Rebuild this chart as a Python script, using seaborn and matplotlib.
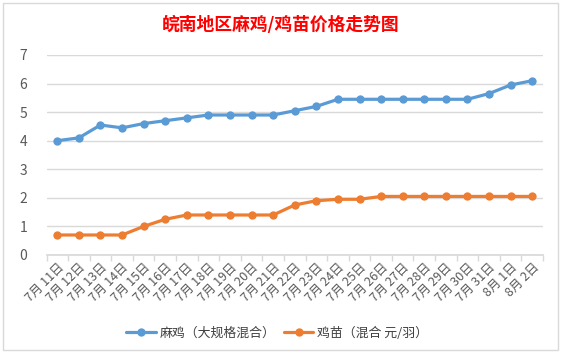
import pandas as pd
import numpy as np
import seaborn as sns
from matplotlib import pyplot as plt
from matplotlib.patches import Rectangle

sns.set_theme(style='white')
plt.rcParams['font.family'] = ['Noto Sans CJK SC', 'DejaVu Sans']

dates = ['7月 11日', '7月 12日', '7月 13日', '7月 14日', '7月 15日', '7月 16日',
         '7月 17日', '7月 18日', '7月 19日', '7月 20日', '7月 21日', '7月 22日',
         '7月 23日', '7月 24日', '7月 25日', '7月 26日', '7月 27日', '7月 28日',
         '7月 29日', '7月 30日', '7月 31日', '8月 1日', '8月 2日']
maji = [4.0, 4.1, 4.55, 4.45, 4.6, 4.7, 4.8, 4.9, 4.9, 4.9, 4.9, 5.05,
        5.2, 5.45, 5.45, 5.45, 5.45, 5.45, 5.45, 5.45, 5.65, 5.95, 6.1]
jimiao = [0.7, 0.7, 0.7, 0.7, 1.0, 1.25, 1.4, 1.4, 1.4, 1.4, 1.4, 1.75,
          1.9, 1.95, 1.95, 2.05, 2.05, 2.05, 2.05, 2.05, 2.05, 2.05, 2.05]
names = ['麻鸡（大规格混合）', '鸡苗（混合 元/羽）']

df = pd.DataFrame({
    'x': list(range(len(dates))) * 2,
    'price': maji + jimiao,
    'series': [names[0]] * len(dates) + [names[1]] * len(dates),
})

fig = plt.figure(figsize=(5.61, 3.55), dpi=100)
# chart area border (excel style)
fig.patches.append(Rectangle((3 / 561, 5 / 355), 555 / 561, 347 / 355,
                             transform=fig.transFigure, fill=False,
                             edgecolor='#d9d9d9', lw=1))
ax = fig.add_axes([46.5 / 561, 100 / 355, 496.5 / 561, 200 / 355])

sns.lineplot(data=df, x='x', y='price', hue='series', ax=ax,
             palette=['#5b9bd5', '#ed7d31'], marker='o', markersize=6,
             markeredgewidth=0, linewidth=2.3)

ax.set_xlim(-0.5, len(dates) - 0.5)
ax.set_ylim(0, 7)
ax.set_yticks(range(0, 8))
ax.yaxis.grid(True, color='#d9d9d9', lw=1)
for s in ['top', 'right', 'left']:
    ax.spines[s].set_visible(False)
ax.spines['bottom'].set_color('#d9d9d9')
ax.set_xticks(range(len(dates)))
ax.set_xticklabels(dates, rotation=45, ha='right', rotation_mode='anchor',
                   fontsize=9, color='#595959')
ax.set_xticks(np.arange(-0.5, len(dates), 1), minor=True)
ax.tick_params(axis='x', which='major', length=0, pad=4)
ax.tick_params(axis='x', which='minor', length=4, color='#d9d9d9', width=1,
               bottom=True)
ax.tick_params(axis='y', length=0, labelsize=10, labelcolor='#595959', pad=14)
ax.set_xlabel('')
ax.set_ylabel('')

fig.text(0.5, 1 - 25 / 355, '皖南地区麻鸡/鸡苗价格走势图', ha='center', va='center',
         color='red', fontsize=12.8, fontweight='bold')

ax.legend(loc='center', bbox_to_anchor=(0.465, -0.39), ncol=2, frameon=False,
          fontsize=9.3, handlelength=2.3, handletextpad=0.3, columnspacing=0.6,
          labelcolor='#404040')

plt.savefig('out.png', dpi=100)
